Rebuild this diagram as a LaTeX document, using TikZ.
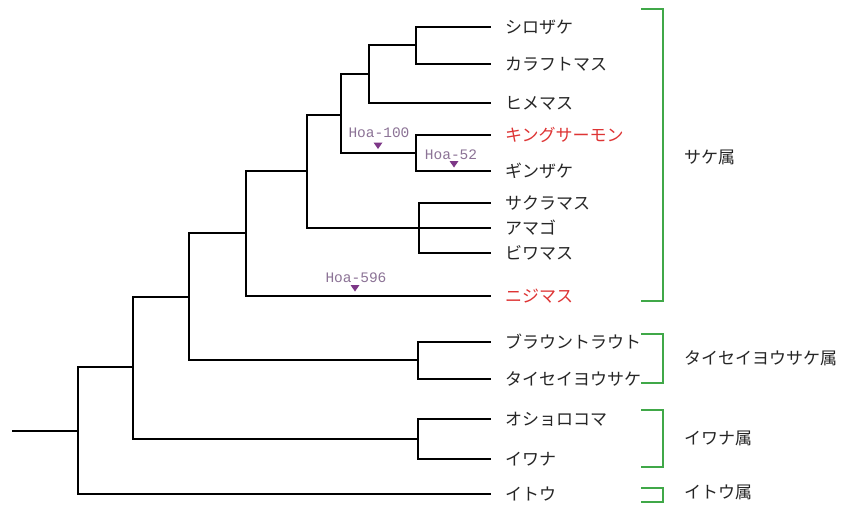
\documentclass[tikz,border=0pt]{standalone}
\usepackage{fontspec}
\newfontfamily\jp{Noto Sans CJK JP}
\newfontfamily\labfont{Liberation Mono}
\definecolor{redsp}{RGB}{222,52,52}
\definecolor{gbr}{RGB}{64,168,72}
\definecolor{mk}{RGB}{125,55,135}
\definecolor{hoa}{RGB}{140,115,150}
\begin{document}
\begin{tikzpicture}[x=1pt,y=-1pt,
  branch/.style={line width=2.6pt, line join=miter, black},
  leaf/.style={anchor=west, inner xsep=14pt, inner ysep=0pt, font=\jp\fontsize{17}{19}\selectfont, text=black!85},
  redleaf/.style={leaf, text=redsp},
  genus/.style={anchor=west, inner sep=0pt, font=\jp\fontsize{17}{19}\selectfont, text=black!85},
  bracket/.style={line width=2.6pt, gbr, line join=miter},
  hoalab/.style={inner sep=0pt, font=\labfont\fontsize{14.5}{16}\selectfont, text=hoa}]
\fill[white] (0,0) rectangle (841,504);
\useasboundingbox (0,0) rectangle (841,504);
% leaves
\node[leaf] (L1) at (491,27) {シロザケ};
\node[leaf] (L2) at (491,64) {カラフトマス};
\node[leaf] (L3) at (491,103) {ヒメマス};
\node[redleaf] (L4) at (491,135) {キングサーモン};
\node[leaf] (L5) at (491,171) {ギンザケ};
\node[leaf] (L6) at (491,203) {サクラマス};
\node[leaf] (L7) at (491,228) {アマゴ};
\node[leaf] (L8) at (491,253) {ビワマス};
\node[redleaf] (L9) at (491,296) {ニジマス};
\node[leaf] (L10) at (491,342) {ブラウントラウト};
\node[leaf] (L11) at (491,379) {タイセイヨウサケ};
\node[leaf] (L12) at (491,419) {オショロコマ};
\node[leaf] (L13) at (491,459) {イワナ};
\node[leaf] (L14) at (491,494) {イトウ};
% internal nodes
\coordinate (n12) at (416,45);
\coordinate (n123) at (369,74);
\coordinate (n45) at (416,153);
\coordinate (n15) at (341,115);
\coordinate (n678) at (419,228);
\coordinate (n18) at (307,171);
\coordinate (n19) at (246,233);
\coordinate (n1011) at (418,360);
\coordinate (n111) at (189,297);
\coordinate (n1213) at (418,439);
\coordinate (n113) at (133,367);
\coordinate (root) at (78,431);
\coordinate (start) at (12,431);
% branches
\draw[branch] (n12) |- (L1.west);
\draw[branch] (n12) |- (L2.west);
\draw[branch] (n123) |- (n12);
\draw[branch] (n123) |- (L3.west);
\draw[branch] (n45) |- (L4.west);
\draw[branch] (n45) |- (L5.west);
\draw[branch] (n15) |- (n123);
\draw[branch] (n15) |- (n45);
\draw[branch] (n678) |- (L6.west);
\draw[branch] (n678) -- (L7.west);
\draw[branch] (n678) |- (L8.west);
\draw[branch] (n18) |- (n15);
\draw[branch] (n18) |- (n678);
\draw[branch] (n19) |- (n18);
\draw[branch] (n19) |- (L9.west);
\draw[branch] (n1011) |- (L10.west);
\draw[branch] (n1011) |- (L11.west);
\draw[branch] (n111) |- (n19);
\draw[branch] (n111) |- (n1011);
\draw[branch] (n1213) |- (L12.west);
\draw[branch] (n1213) |- (L13.west);
\draw[branch] (n113) |- (n111);
\draw[branch] (n113) |- (n1213);
\draw[branch] (root) |- (n113);
\draw[branch] (root) |- (L14.west);
\draw[branch] (start) -- (root);
% markers
\fill[mk] (373.5,142.5) -- (382.5,142.5) -- (378,149) -- cycle;
\node[hoalab] (h100) at (379,133) {Hoa-100};
\fill[mk] (449.5,161) -- (458.5,161) -- (454,167.5) -- cycle;
\node[hoalab] (h52) at (451,155) {Hoa-52};
\fill[mk] (350.5,285) -- (359.5,285) -- (355,291.5) -- cycle;
\node[hoalab] (h596) at (356,278) {Hoa-596};
% genus brackets
\draw[bracket] (641,9) -- (663,9) -- (663,301) -- (641,301);
\draw[bracket] (641,334) -- (663,334) -- (663,383) -- (641,383);
\draw[bracket] (641,410) -- (663,410) -- (663,467) -- (641,467);
\draw[bracket] (641,488) -- (663,488) -- (663,502) -- (641,502);
\node[genus] (g1) at (684,157) {サケ属};
\node[genus] (g2) at (684,358) {タイセイヨウサケ属};
\node[genus] (g3) at (684,438) {イワナ属};
\node[genus] (g4) at (684,492) {イトウ属};
\end{tikzpicture}
\end{document}
